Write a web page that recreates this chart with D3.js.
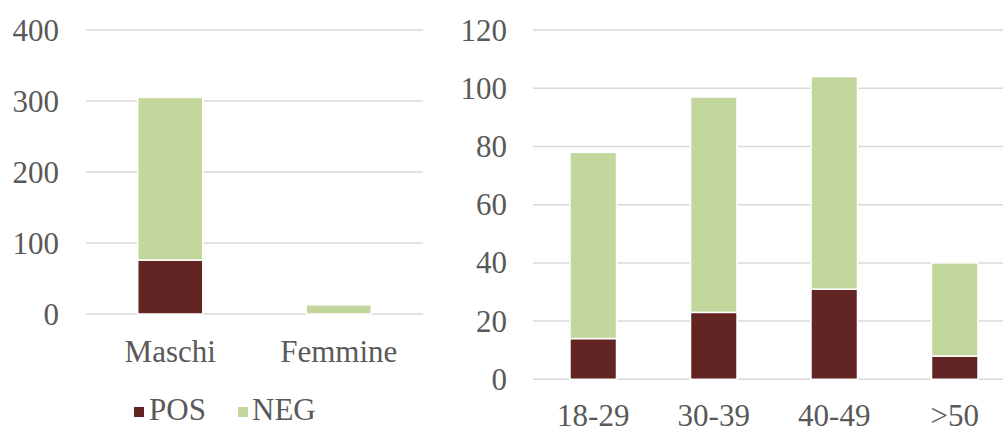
<!DOCTYPE html>
<html>
<head>
<meta charset="utf-8">
<script src="https://cdn.jsdelivr.net/npm/d3@7"></script>
<style>
  html, body { margin: 0; padding: 0; background: #fff; }
  svg { display: block; }
</style>
</head>
<body>
<svg id="chart" width="1003" height="430"></svg>
<script>
// Tests by sex
const sexCategories = ["Maschi", "Femmine"];
const sexPos = [76, 0];
const sexNeg = [229, 13];
const sexTicks = [0, 100, 200, 300, 400];

// Tests by age group
const ageCategories = ["18-29", "30-39", "40-49", ">50"];
const agePos = [14, 23, 31, 8];
const ageNeg = [64, 74, 73, 32];
const ageTicks = [0, 20, 40, 60, 80, 100, 120];

const seriesNames = ["POS", "NEG"];
const colors = { POS: "#632523", NEG: "#C3D69B" };

const svg = d3.select("#chart");
const fontSize = 31;
const textColor = "#595959";

function label(parent, x, y, str, anchor) {
  const t = parent.append("text").attr("x", x).attr("y", y).attr("font-size", fontSize);
  t.style("font-family", '"Liberation Serif"');
  t.attr("fill", textColor);
  if (anchor) t.attr("text-anchor", anchor);
  t.text(str);
  return t;
}

function panel(opts) {
  const { cats, pos, neg, ticks, x0, x1, yTop, yBottom, labelRight, catBaseline } = opts;
  const g = svg.append("g");

  const x = d3.scaleBand().domain(cats).range([x0, x1]).paddingInner(0.614).paddingOuter(0.307);
  const y = d3.scaleLinear().domain([0, d3.max(ticks)]).range([yBottom, yTop]);

  // gridlines
  g.append("g").selectAll("line").data(ticks).join("line")
    .attr("x1", x0).attr("x2", x1)
    .attr("y1", d => y(d)).attr("y2", d => y(d))
    .attr("stroke", "#D9D9D9").attr("stroke-width", 1.5);

  // stacked bars
  const rows = cats.map((c, i) => ({ cat: c, POS: pos[i], NEG: neg[i] }));
  const stack = d3.stack().keys(seriesNames)(rows);
  g.append("g").selectAll("g").data(stack).join("g")
    .attr("fill", d => colors[d.key])
    .selectAll("rect").data(d => d.filter(s => s[1] - s[0] > 0)).join("rect")
    .attr("x", d => x(d.data.cat))
    .attr("width", x.bandwidth())
    .attr("y", d => y(d[1]))
    .attr("height", d => y(d[0]) - y(d[1]))
    .attr("stroke", "#fff").attr("stroke-width", 1.5);

  // value axis labels
  const tg = g.append("g");
  const fmt = y.tickFormat();
  ticks.forEach(v => label(tg, labelRight, y(v) + 10.5, fmt(v), "end"));

  // category labels
  const cg = g.append("g");
  cats.forEach(c => label(cg, x(c) + x.bandwidth() / 2, catBaseline, c, "middle"));
}

panel({
  cats: sexCategories, pos: sexPos, neg: sexNeg, ticks: sexTicks,
  x0: 86, x1: 423, yTop: 30, yBottom: 314, labelRight: 59, catBaseline: 362
});

panel({
  cats: ageCategories, pos: agePos, neg: ageNeg, ticks: ageTicks,
  x0: 533, x1: 1015, yTop: 30.1, yBottom: 379.3, labelRight: 507, catBaseline: 426
});

// legend
const legendItems = [
  { name: "POS", sx: 134, tx: 149 },
  { name: "NEG", sx: 238, tx: 252 }
];
const lg = svg.append("g");
lg.selectAll("rect").data(legendItems).join("rect")
  .attr("x", d => d.sx).attr("y", 407).attr("width", 10).attr("height", 10)
  .attr("fill", d => colors[d.name]);
legendItems.forEach(d => label(lg, d.tx, 419.5, d.name));
</script>
</body>
</html>
